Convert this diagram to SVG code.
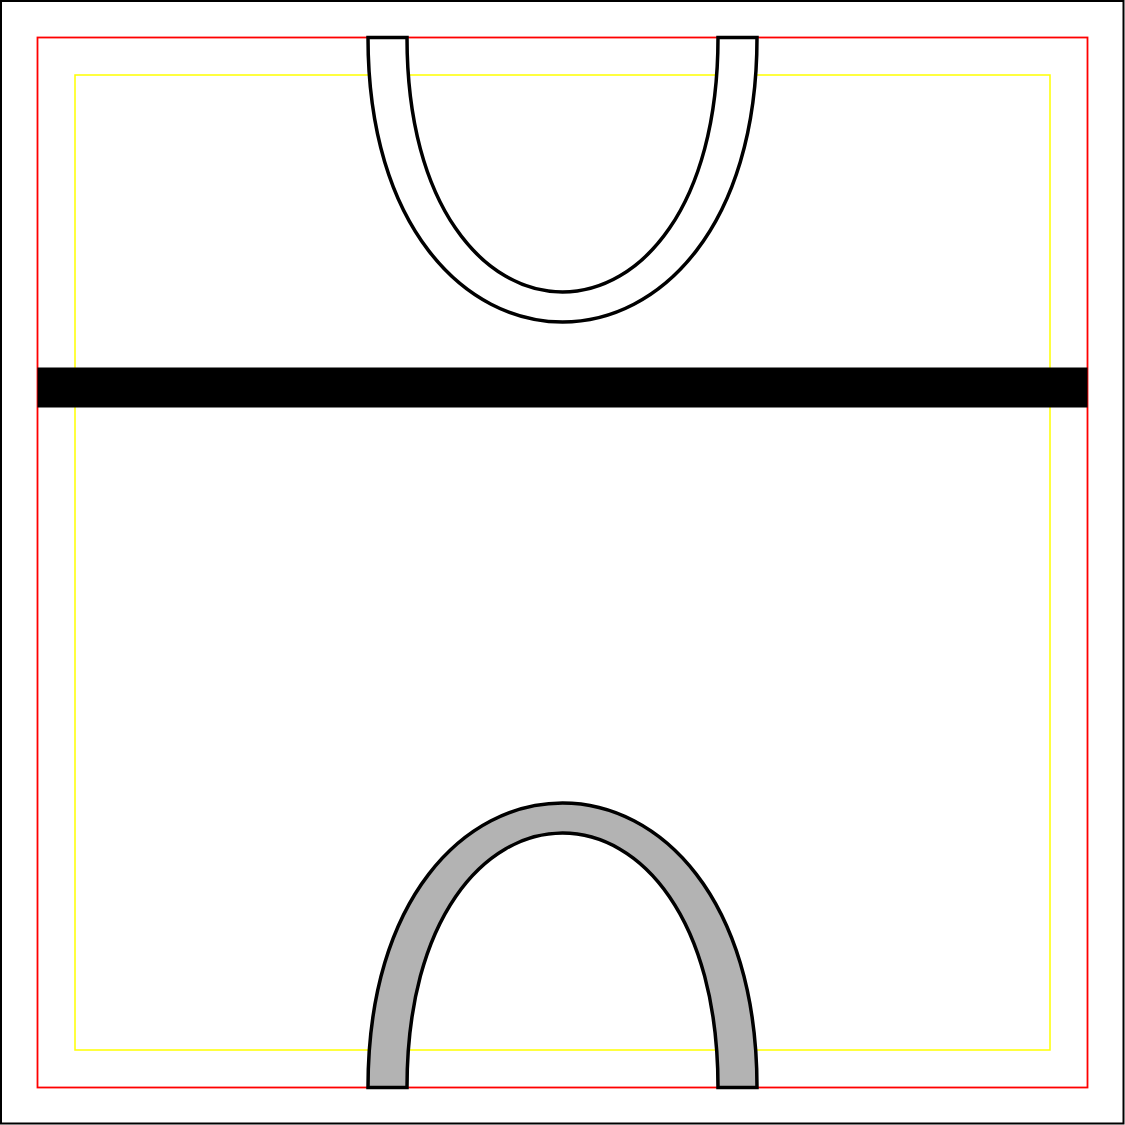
<svg xmlns="http://www.w3.org/2000/svg" width="1125" height="1125" viewBox="0 0 1125 1125">
<style>
.frame{fill:none;stroke:#000000;stroke-width:2}
.redline{fill:none;stroke:#ff0000;stroke-width:1.8}
.yel{fill:none;stroke:#ffff00;stroke-width:1.5}
.arch{stroke:#000000;stroke-width:3.5;stroke-linejoin:miter}
</style>
<rect x="0" y="0" width="1125" height="1125" fill="#ffffff"/>
<rect class="frame" x="1" y="1" width="1122.5" height="1122.5"/>
<rect class="redline" x="37.5" y="37.5" width="1050" height="1050"/>
<rect class="yel" x="75" y="75" width="975" height="975"/>
<g id="bar">
<rect x="37.5" y="367.5" width="1050" height="40" fill="#000000"/>
</g>
<g id="top-arch">
<path class="arch" fill="#ffffff" d="M368,37.5 C368,416.8 757,416.8 757,37.5 L718,37.5 C718,376.8 407,376.8 407,37.5 Z"/>
</g>
<g id="bottom-arch">
<path class="arch" fill="#b3b3b3" d="M368,1087.5 C368,708.2 757,708.2 757,1087.5 L718,1087.5 C718,748.2 407,748.2 407,1087.5 Z"/>
</g>
</svg>
